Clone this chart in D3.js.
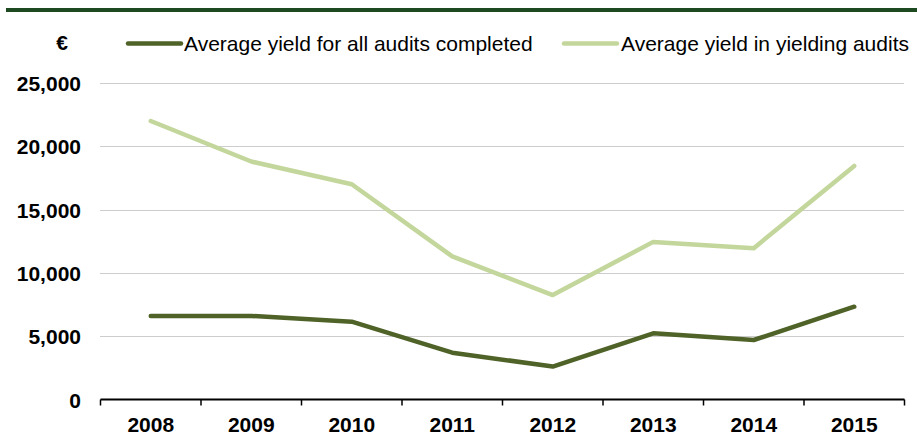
<!DOCTYPE html>
<html>
<head>
<meta charset="utf-8">
<script src="https://cdn.jsdelivr.net/npm/d3@7"></script>
<style>
  html, body { margin: 0; padding: 0; background: #ffffff; }
  svg { display: block; font-family: "Liberation Sans", Arial, sans-serif; }
</style>
</head>
<body>
<svg id="chart" width="917" height="437"></svg>
<script>
// Audit yield per year, in euro
const years = ["2008", "2009", "2010", "2011", "2012", "2013", "2014", "2015"];
const allAudits = [6600, 6600, 6150, 3700, 2600, 5230, 4700, 7330];
const yieldingAudits = [22000, 18800, 17000, 11300, 8250, 12450, 11950, 18450];
const yTicks = [0, 5000, 10000, 15000, 20000, 25000];
const seriesNames = ["Average yield for all audits completed", "Average yield in yielding audits"];
const seriesColors = ["#4f6228", "#c3d69b"];

const svg = d3.select("#chart");
const W = 917, H = 437;
const plot = { left: 100.5, right: 904.5, top: 83, bottom: 399.5 };
const FS = 21;

// Header rule across the top
svg.append("rect").attr("x", 6).attr("y", 8).attr("width", W - 6).attr("height", 4).attr("fill", "#1e4a22");

const x = d3.scaleBand().domain(years).range([plot.left, plot.right]).padding(0);
const y = d3.scaleLinear().domain([0, 25000]).range([plot.bottom, plot.top]);

// Horizontal dotted gridlines
svg.append("g")
  .selectAll("line")
  .data(yTicks.filter(d => d > 0))
  .join("line")
  .attr("x1", plot.left).attr("x2", plot.right)
  .attr("y1", d => Math.round(y(d)) + 0.5).attr("y2", d => Math.round(y(d)) + 0.5)
  .attr("stroke", "#9a9a9a").attr("stroke-width", 1).attr("stroke-dasharray", "1,1");

// Y axis labels
const yAxis = d3.axisLeft(y).tickValues(yTicks).tickSize(0).tickPadding(0)
  .tickFormat(d3.format(","));
const gy = svg.append("g").attr("transform", `translate(${plot.left - 19.5},0)`).call(yAxis);
gy.select(".domain").remove();
gy.selectAll("text")
  .attr("font-family", "Liberation Sans, Arial, sans-serif")
  .attr("font-size", FS).attr("font-weight", "bold").attr("fill", "#000")
  .attr("dy", "0.36em");

// Currency unit above the axis
svg.append("text").attr("x", 62).attr("y", 50).attr("text-anchor", "middle")
  .attr("font-size", FS).attr("font-weight", "bold").text("€");

// X axis with ticks at category boundaries
const gx = svg.append("g").attr("transform", `translate(0,${plot.bottom})`);
gx.append("line").attr("x1", plot.left).attr("x2", plot.right).attr("y1", 0).attr("y2", 0)
  .attr("stroke", "#000").attr("stroke-width", 2);
const boundaries = years.map(d => x(d)).concat([plot.right]);
gx.selectAll("line.tick").data(boundaries).join("line").attr("class", "tick")
  .attr("x1", d => d).attr("x2", d => d).attr("y1", 0).attr("y2", 6)
  .attr("stroke", "#000").attr("stroke-width", 1.5);
gx.selectAll("text").data(years).join("text")
  .attr("x", d => x(d) + x.bandwidth() / 2).attr("y", 32.5)
  .attr("text-anchor", "middle").attr("font-size", FS).attr("font-weight", "bold")
  .text(d => d);

// Series lines
const line = d3.line().x((d, i) => x(years[i]) + x.bandwidth() / 2).y(d => y(d));
[yieldingAudits, allAudits].forEach((vals, k) => {
  const color = k === 0 ? seriesColors[1] : seriesColors[0];
  svg.append("path").datum(vals).attr("d", line)
    .attr("fill", "none").attr("stroke", color).attr("stroke-width", 4.5)
    .attr("stroke-linejoin", "round").attr("stroke-linecap", "round");
});

// Legend
const legend = [
  { name: seriesNames[0], color: seriesColors[0], x0: 128, x1: 181, tx: 184 },
  { name: seriesNames[1], color: seriesColors[1], x0: 564, x1: 617, tx: 621 }
];
const lg = svg.append("g");
legend.forEach(l => {
  lg.append("line").attr("x1", l.x0).attr("x2", l.x1).attr("y1", 43.5).attr("y2", 43.5)
    .attr("stroke", l.color).attr("stroke-width", 4.5).attr("stroke-linecap", "round");
  lg.append("text").attr("x", l.tx).attr("y", 51).attr("font-size", FS).attr("fill", "#000").text(l.name);
});
</script>
</body>
</html>
